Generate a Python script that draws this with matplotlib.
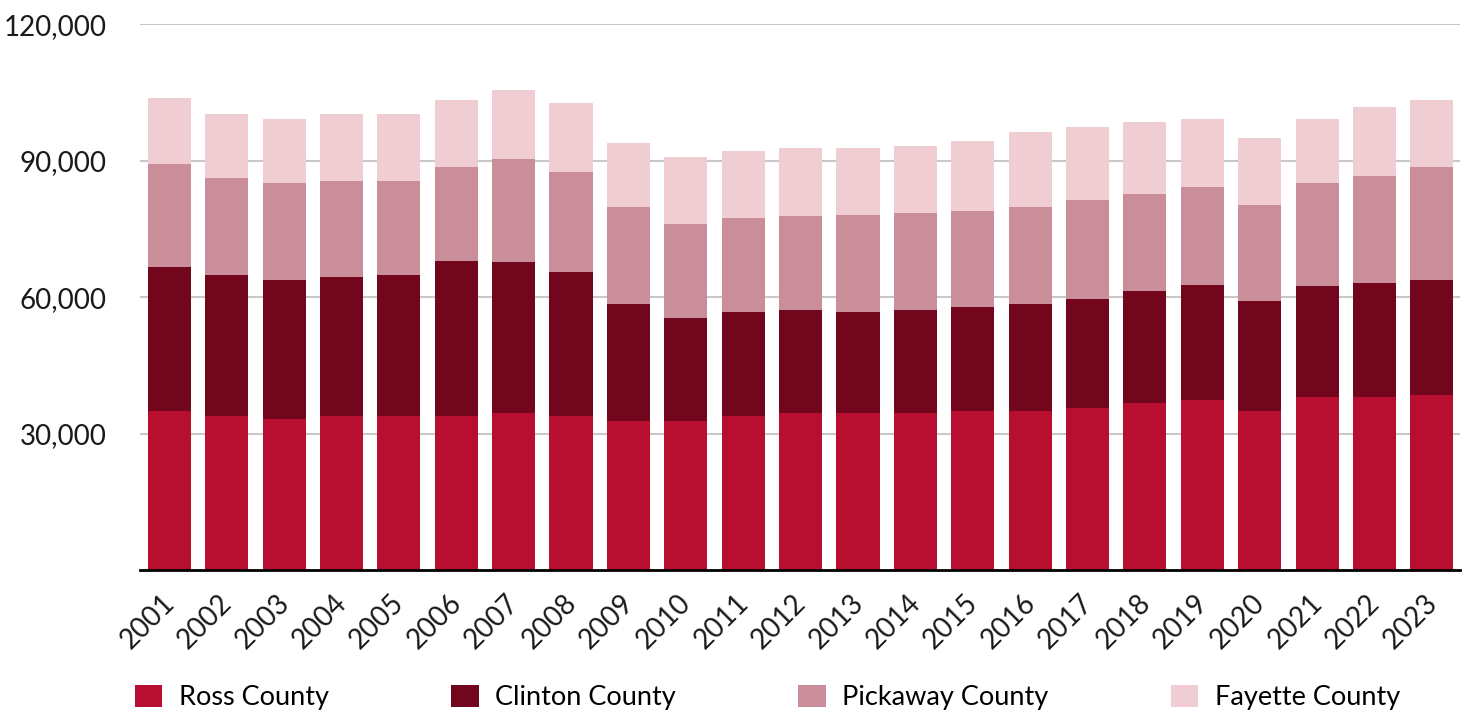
import matplotlib
matplotlib.use("Agg")
import matplotlib.pyplot as plt
from matplotlib.ticker import FuncFormatter
import matplotlib.transforms as mtransforms
import numpy as np

years = [str(y) for y in range(2001, 2024)]
ross = [34900, 33800, 33200, 33800, 33800, 33800, 34500, 33800, 32700, 32700, 33800, 34500,
        34500, 34500, 34900, 34900, 35600, 36700, 37300, 34900, 38000, 38000, 38400]
clinton = [31800, 31100, 30600, 30700, 31100, 34200, 33300, 31800, 25800, 22700, 23000, 22700,
           22300, 22700, 22900, 23600, 24000, 24700, 25400, 24300, 24500, 25100, 25400]
pickaway = [22500, 21200, 21200, 21000, 20700, 20500, 22500, 21800, 21200, 20700, 20500, 20700,
            21200, 21200, 21200, 21200, 21800, 21200, 21600, 21000, 22500, 23600, 24700]
fayette = [14500, 14100, 14100, 14800, 14600, 14800, 15200, 15200, 14100, 14800, 14800, 14800,
           14800, 14800, 15400, 16500, 15900, 15900, 14800, 14800, 14100, 15200, 14800]

series = [("Ross County", ross, "#B80F31"),
          ("Clinton County", clinton, "#72061C"),
          ("Pickaway County", pickaway, "#C98E99"),
          ("Fayette County", fayette, "#F0CCD3")]

plt.rcParams['font.family'] = ['Lato', 'DejaVu Sans']

fig = plt.figure(figsize=(14.69, 7.11), dpi=100)
ax = fig.add_axes([0.0953, 0.1983, 0.8986, 0.7677])

x = np.arange(len(years))
bottom = np.zeros(len(years))
handles = []
for name, vals, col in series:
    b = ax.bar(x, vals, width=0.75, bottom=bottom, color=col, label=name, zorder=3)
    handles.append(b)
    bottom += np.array(vals)

ax.set_xlim(-0.51, 22.49)
ax.set_ylim(0, 120000)
ax.set_yticks([30000, 60000, 90000, 120000])
ax.yaxis.set_major_formatter(FuncFormatter(lambda v, p: f"{int(v):,}"))
ax.grid(axis='y', color='#c8c8c8', linewidth=1.5, zorder=0)
ax.tick_params(axis='y', length=0, pad=24, labelsize=20, labelcolor='#1a1a1a')
ax.tick_params(axis='x', length=0, pad=13, labelsize=20, labelcolor='#1a1a1a')
ax.set_xticks(x)
ax.set_xticklabels(years, rotation=45, ha='right', rotation_mode='anchor')
offset = mtransforms.ScaledTranslation(-8 / 100, -2 / 100, fig.dpi_scale_trans)
for lbl in ax.get_xticklabels():
    lbl.set_transform(lbl.get_transform() + offset)
for s in ['top', 'right', 'left']:
    ax.spines[s].set_visible(False)
ax.spines['bottom'].set_linewidth(2)
ax.spines['bottom'].set_color('black')
ax.spines['bottom'].set_zorder(4)

fig.legend(handles=handles, labels=[s[0] for s in series], loc='center left',
           bbox_to_anchor=(0.092, 0.019), ncol=4, frameon=False, fontsize=19.5,
           handlelength=1.0, handleheight=0.9, handletextpad=0.62, columnspacing=4.52,
           borderaxespad=0, borderpad=0)

fig.savefig("out.png", dpi=100)
